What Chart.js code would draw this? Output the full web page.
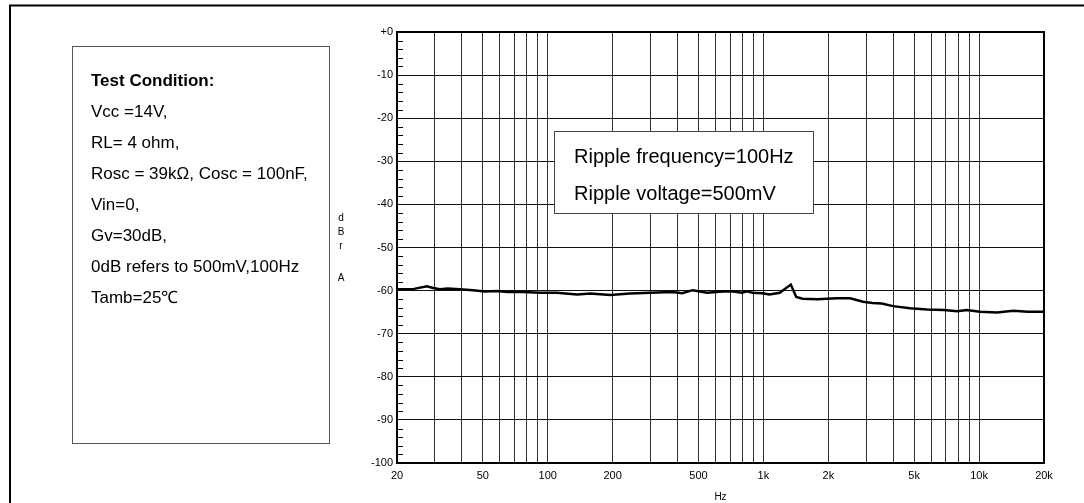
<!DOCTYPE html>
<html>
<head>
<meta charset="utf-8">
<script src="https://cdn.jsdelivr.net/npm/chart.js@4.4.1/dist/chart.umd.min.js"></script>
<style>
  html, body { margin: 0; padding: 0; background: #fff; }
  #wrap { width: 1084px; height: 503px; position: relative; }
</style>
</head>
<body>
<div id="wrap"><canvas id="psrrChart"></canvas></div>
<script>
// Ripple rejection vs frequency
const freqHz = [20, 24, 27.5, 29.4, 31.6, 34.4, 39, 45, 51, 58, 65, 77, 92, 110, 137, 157, 195, 240, 297, 380,
    420, 470, 547, 650, 725, 794, 839, 890, 990, 1068, 1190, 1340, 1420, 1520, 1780, 1970, 2190, 2520, 2900,
    3200, 3540, 3990, 4790, 5740, 6860, 7940, 8770, 10100, 12100, 14400, 16800, 20000];
const rejectionDb = [-59.7, -59.6, -59.0, -59.4, -59.7, -59.5, -59.7, -59.9, -60.2, -60.1, -60.3, -60.3, -60.5,
    -60.5, -60.9, -60.7, -61.0, -60.7, -60.5, -60.3, -60.6, -59.9, -60.5, -60.2, -60.2, -60.5, -60.15, -60.5,
    -60.6, -60.9, -60.5, -58.6, -61.5, -61.9, -62.0, -61.9, -61.8, -61.8, -62.6, -62.9, -63.0, -63.6, -64.1,
    -64.4, -64.5, -64.8, -64.5, -64.9, -65.1, -64.7, -64.9, -64.9];

// оси
const xGridHz = [20, 30, 40, 50, 60, 70, 80, 90, 100, 200, 300, 400, 500, 600, 700, 800, 900,
    1000, 2000, 3000, 4000, 5000, 6000, 7000, 8000, 9000, 10000, 20000];
const xLabelHz = [20, 50, 100, 200, 500, 1000, 2000, 5000, 10000, 20000];
const yMajorDb = [0, -10, -20, -30, -40, -50, -60, -70, -80, -90, -100];

const testConditions = ['Vcc =14V,', 'RL= 4 ohm,', 'Rosc = 39k\u03A9, Cosc = 100nF,', 'Vin=0,', 'Gv=30dB,',
    '0dB refers to 500mV,100Hz', 'Tamb=25\u2103'];
const rippleNotes = ['Ripple frequency=100Hz', 'Ripple voltage=500mV'];

const FONT = "'Liberation Sans', Arial, sans-serif";

function fmtHz(v) {
    if (!xLabelHz.includes(v)) return '';
    return v >= 1000 ? (v / 1000) + 'k' : String(v);
}

// рамки, текстови блокове, малки деления
const decorPlugin = {
    id: 'decor',
    beforeDraw(chart) {
        const ctx = chart.ctx;
        ctx.save();
        ctx.fillStyle = '#fff';
        ctx.fillRect(0, 0, chart.width, chart.height);

        // outer figure frame
        ctx.strokeStyle = '#000';
        ctx.lineWidth = 2;
        ctx.beginPath();
        ctx.moveTo(10, 503);
        ctx.lineTo(10, 5.5);
        ctx.lineTo(1084, 5.5);
        ctx.stroke();

        // test condition box
        ctx.strokeStyle = '#555';
        ctx.lineWidth = 1;
        ctx.strokeRect(72.5, 46.5, 257, 397);
        ctx.fillStyle = '#000';
        ctx.textBaseline = 'middle';
        ctx.textAlign = 'left';
        ctx.font = 'bold 17px ' + FONT;
        ctx.fillText('Test Condition:', 91, 81);
        ctx.font = '17px ' + FONT;
        testConditions.forEach((t, i) => ctx.fillText(t, 91, 112 + i * 31));

        // y axis title, stacked letters
        ctx.font = '10px ' + FONT;
        ctx.textAlign = 'center';
        [['d', 218], ['B', 232], ['r', 246], ['A', 278]].forEach(([c, y]) => ctx.fillText(c, 341, y));
        ctx.restore();
    },
    afterDatasetsDraw(chart) {
        const ctx = chart.ctx;
        const area = chart.chartArea;
        const yScale = chart.scales.y;
        ctx.save();

        // minor ticks every 2 dB
        ctx.strokeStyle = '#000';
        ctx.lineWidth = 1;
        ctx.beginPath();
        for (let v = -98; v < 0; v += 2) {
            if (v % 10 === 0) continue;
            const py = Math.round(yScale.getPixelForValue(v)) + 0.5;
            ctx.moveTo(area.left, py);
            ctx.lineTo(area.left + 6, py);
        }
        ctx.stroke();

        // top and right border
        ctx.lineWidth = 2;
        ctx.beginPath();
        ctx.moveTo(area.left, area.top);
        ctx.lineTo(area.right, area.top);
        ctx.lineTo(area.right, area.bottom);
        ctx.stroke();

        // ripple note box
        ctx.fillStyle = '#fff';
        ctx.fillRect(554, 131, 259, 82);
        ctx.strokeStyle = '#444';
        ctx.lineWidth = 1;
        ctx.strokeRect(554.5, 131.5, 259, 82);
        ctx.fillStyle = '#000';
        ctx.font = '20px ' + FONT;
        ctx.textAlign = 'left';
        ctx.textBaseline = 'middle';
        rippleNotes.forEach((t, i) => ctx.fillText(t, 574, 157 + i * 37));
        ctx.restore();
    }
};

function loadPsrrChart() {
    const ctx = document.getElementById('psrrChart').getContext('2d');

    const points = freqHz.map((f, i) => ({ x: f, y: rejectionDb[i] }));

    new Chart(ctx, {
        type: 'line',
        data: {
            datasets: [{
                data: points,
                borderColor: '#000',
                borderWidth: 2.5,
                pointRadius: 0,
                tension: 0,
                fill: false
            }]
        },
        options: {
            responsive: false,
            animation: false,
            events: [],
            layout: {
                padding: { left: 357, right: 40, top: 32, bottom: 0 }
            },
            plugins: {
                legend: { display: false },
                tooltip: { enabled: false },
                title: { display: false }
            },
            scales: {
                x: {
                    type: 'logarithmic',
                    min: 20,
                    max: 20000,
                    afterBuildTicks: (scale) => {
                        scale.ticks = xGridHz.map(v => ({ value: v }));
                    },
                    afterFit: (scale) => { scale.height = 40; },
                    ticks: {
                        autoSkip: false,
                        maxRotation: 0,
                        padding: 6,
                        color: '#000',
                        font: { family: FONT, size: 11 },
                        callback: (v) => fmtHz(v)
                    },
                    grid: {
                        color: '#333',
                        lineWidth: 1,
                        drawTicks: false
                    },
                    border: { color: '#000', width: 2 },
                    title: {
                        display: true,
                        text: 'Hz',
                        color: '#000',
                        font: { family: FONT, size: 10 },
                        padding: { top: 0, bottom: 0 }
                    }
                },
                y: {
                    min: -100,
                    max: 0,
                    afterBuildTicks: (scale) => {
                        scale.ticks = yMajorDb.map(v => ({ value: v }));
                    },
                    afterFit: (scale) => { scale.width = 40; },
                    ticks: {
                        autoSkip: false,
                        padding: 4,
                        color: '#000',
                        font: { family: FONT, size: 11 },
                        callback: (v) => (v === 0 ? '+0' : String(v))
                    },
                    grid: {
                        color: '#111',
                        lineWidth: 1,
                        drawTicks: false
                    },
                    border: { color: '#000', width: 2 }
                }
            }
        },
        plugins: [decorPlugin]
    });
}

document.getElementById('psrrChart').width = 1084;
document.getElementById('psrrChart').height = 503;
loadPsrrChart();
</script>
</body>
</html>
